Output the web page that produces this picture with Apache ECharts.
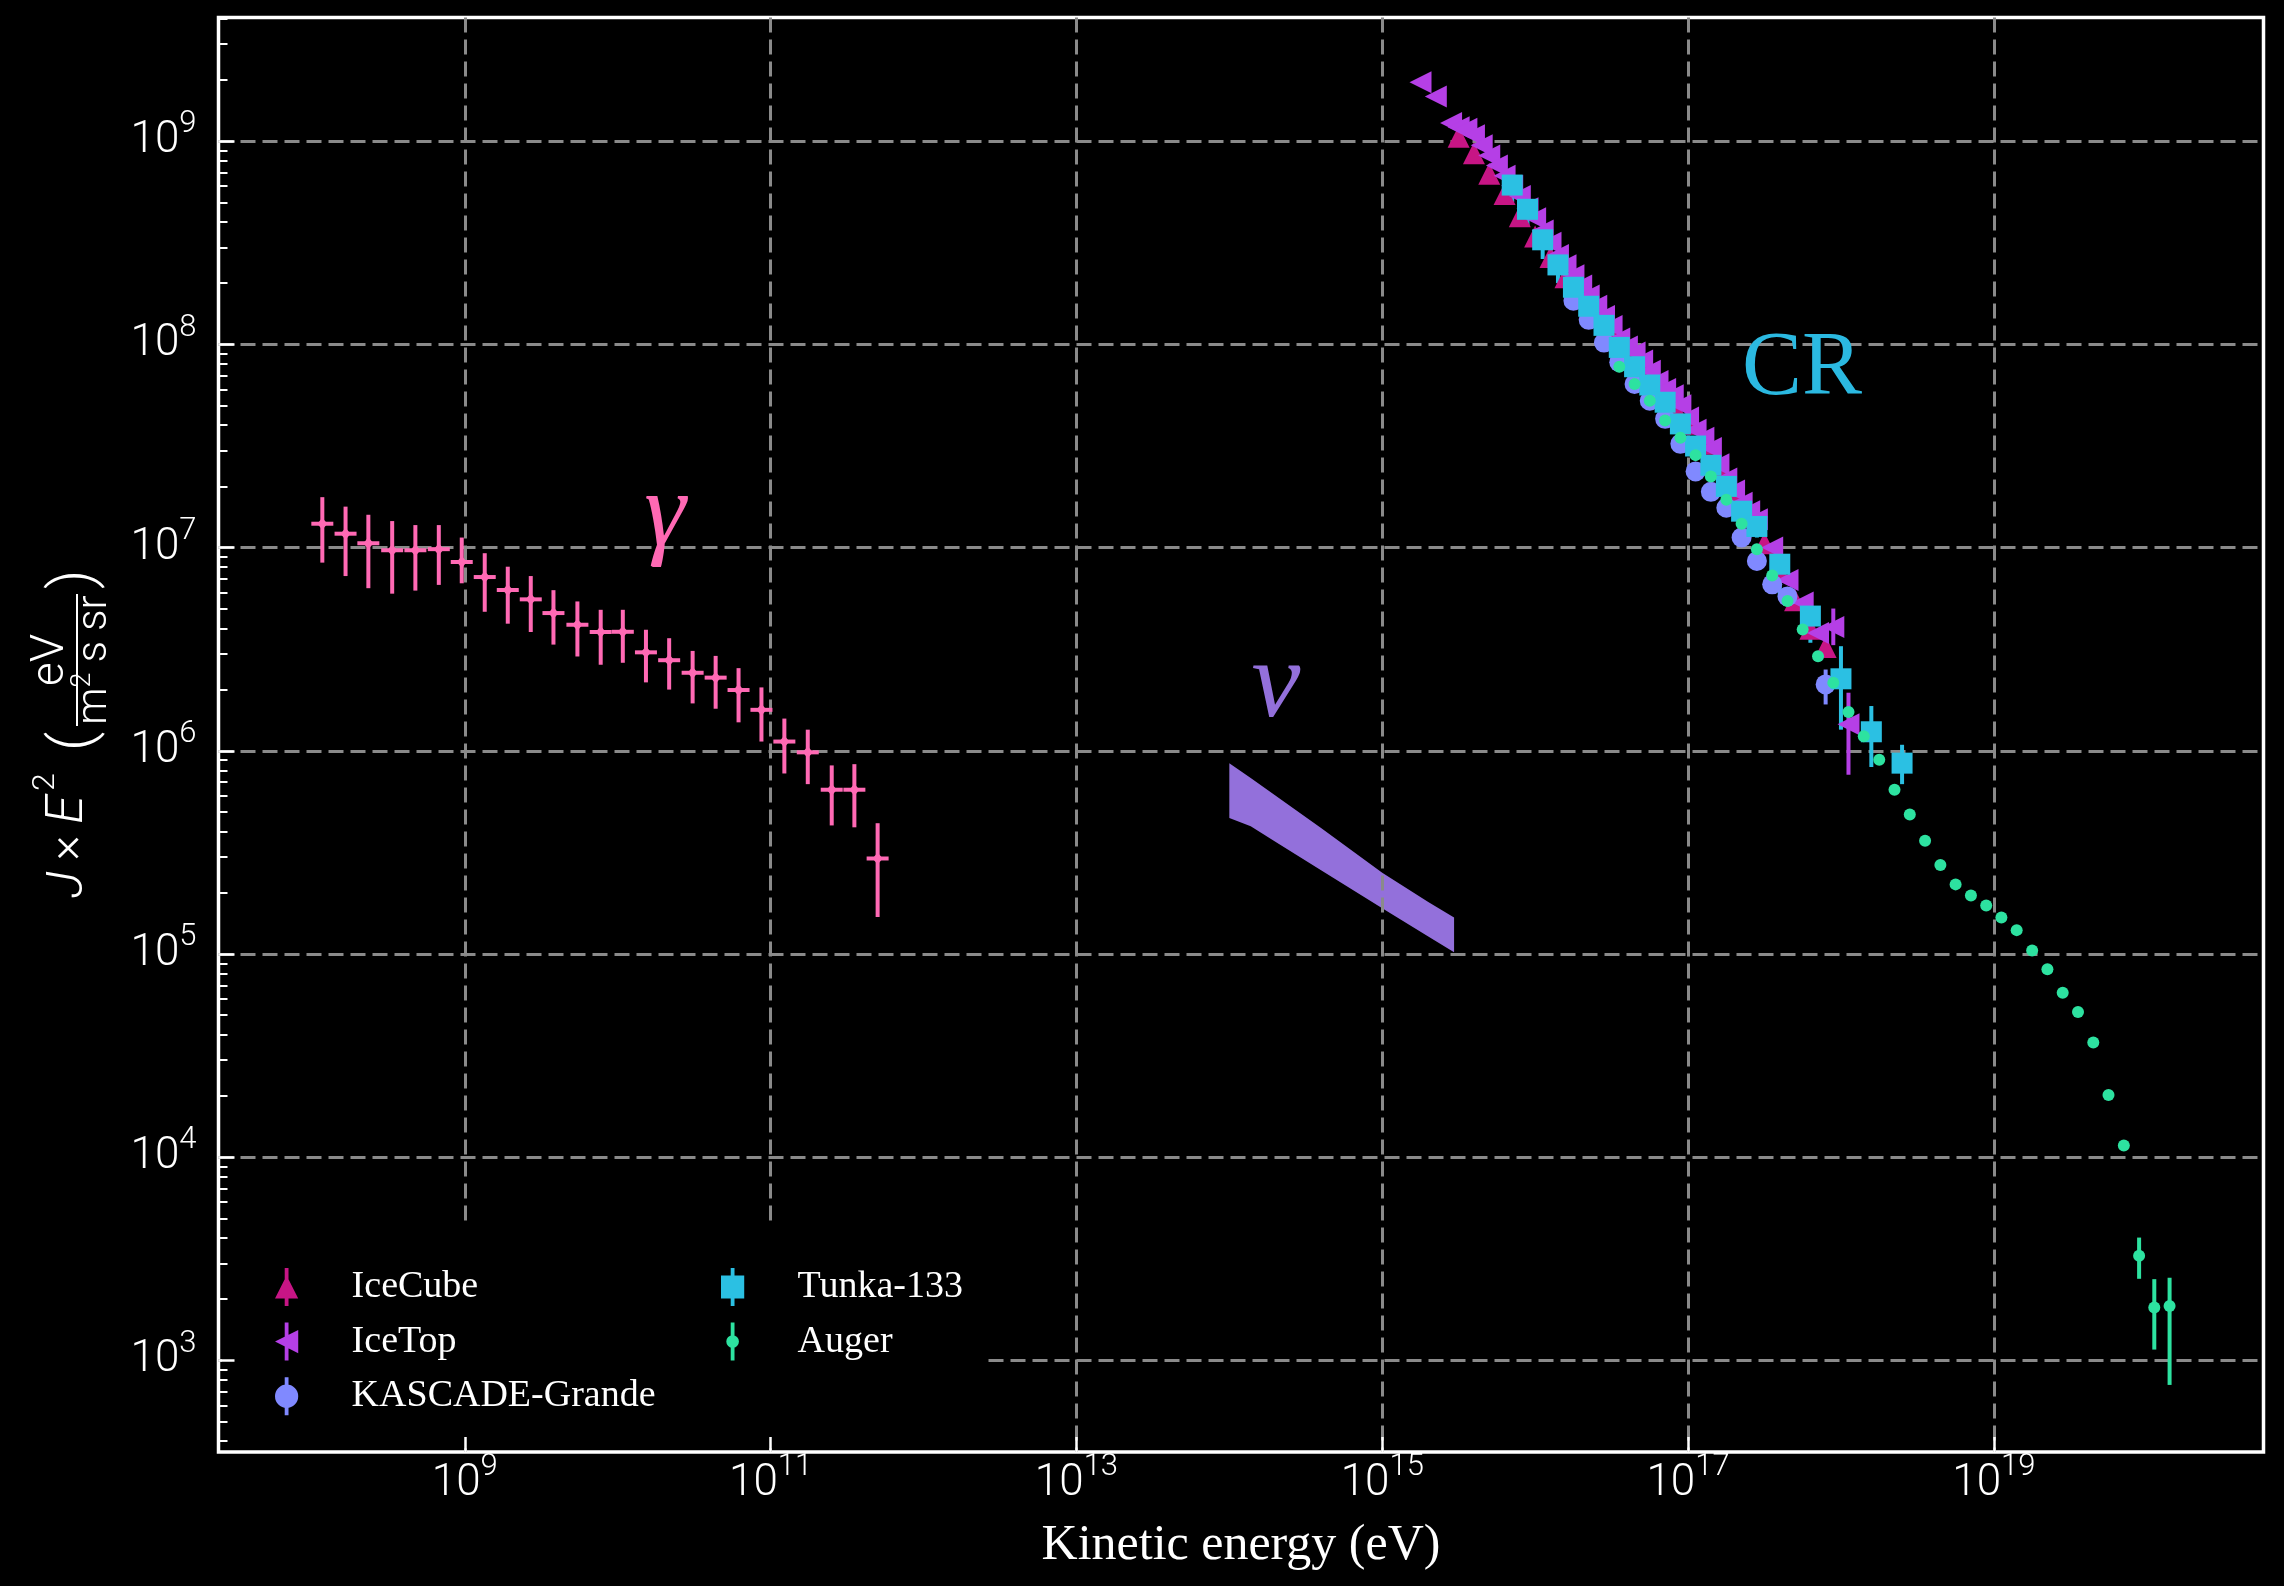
<!DOCTYPE html>
<html><head><meta charset="utf-8">
<script src="https://cdn.jsdelivr.net/npm/echarts@6/dist/echarts.min.js"></script>
<style>html,body{margin:0;padding:0;background:#000;}#c{width:2284px;height:1586px;}</style>
</head><body><div id="c"></div>
<script>
// ---------------- data ----------------
const xTickValues = [1e9, 1e11, 1e13, 1e15, 1e17, 1e19];
const yTickValues = [1e3, 1e4, 1e5, 1e6, 1e7, 1e8, 1e9];
const yMinorTickValues = [4e2,5e2,6e2,7e2,8e2,9e2,
  2e3,3e3,4e3,5e3,6e3,7e3,8e3,9e3, 2e4,3e4,4e4,5e4,6e4,7e4,8e4,9e4,
  2e5,3e5,4e5,5e5,6e5,7e5,8e5,9e5, 2e6,3e6,4e6,5e6,6e6,7e6,8e6,9e6,
  2e7,3e7,4e7,5e7,6e7,7e7,8e7,9e7, 2e8,3e8,4e8,5e8,6e8,7e8,8e8,9e8, 2e9,3e9,4e9];

// gamma rays
const gammaEnergy = [1.17e8,1.66e8,2.34e8,3.35e8,4.75e8,6.76e8,9.55e8,1.35e9,1.91e9,2.70e9,3.80e9,5.45e9,7.74e9,1.08e10,1.53e10,2.17e10,3.09e10,4.37e10,6.17e10,8.71e10,1.23e11,1.75e11,2.51e11,3.53e11,5.01e11];
const gammaFlux = [1.31e7,1.17e7,1.05e7,9.70e6,9.70e6,9.82e6,8.49e6,7.16e6,6.18e6,5.56e6,4.76e6,4.17e6,3.84e6,3.85e6,3.05e6,2.79e6,2.42e6,2.29e6,1.99e6,1.59e6,1.11e6,9.82e5,6.43e5,6.43e5,2.95e5];
const gammaFluxLow = [8.43e6,7.24e6,6.31e6,5.93e6,6.14e6,6.55e6,6.67e6,4.83e6,4.22e6,3.84e6,3.33e6,2.91e6,2.65e6,2.71e6,2.17e6,2.00e6,1.71e6,1.61e6,1.38e6,1.11e6,7.73e5,6.85e5,4.29e5,4.20e5,1.52e5];
const gammaFluxHigh = [1.77e7,1.59e7,1.45e7,1.35e7,1.29e7,1.29e7,1.12e7,9.38e6,8.05e6,7.24e6,6.17e6,5.43e6,4.94e6,4.94e6,3.94e6,3.58e6,3.10e6,2.93e6,2.55e6,2.05e6,1.44e6,1.27e6,8.47e5,8.59e5,4.40e5];

// neutrino band
const nuEnergy = [1.0e14,1.38e14,2.0e14,3.98e14,1.0e15,2.0e15,2.95e15];
const nuUpper  = [8.69e5,7.35e5,6.03e5,4.17e5,2.51e5,1.80e5,1.51e5];
const nuLower  = [4.67e5,4.25e5,3.57e5,2.58e5,1.68e5,1.22e5,1.02e5];

// IceCube
const iceCubeEnergy = [3.16e15,3.98e15,5.01e15,6.31e15,7.94e15,1.00e16,1.26e16,1.58e16,2.00e16,2.51e16,3.16e16,3.98e16,5.01e16,6.31e16,7.94e16,1.00e17,1.26e17,1.58e17,2.00e17,2.51e17,3.16e17,3.98e17,5.01e17,6.31e17,7.94e17];
const iceCubeFlux = [1.05e9,8.71e8,6.92e8,5.50e8,4.27e8,3.39e8,2.69e8,2.14e8,1.74e8,1.41e8,1.12e8,9.33e7,7.76e7,6.31e7,5.13e7,4.07e7,3.24e7,2.51e7,1.86e7,1.41e7,1.05e7,7.59e6,5.50e6,3.98e6,3.24e6];

// IceTop
const iceTopEnergy = [1.78e15,2.24e15,2.82e15,3.16e15,3.55e15,3.98e15,4.47e15,5.01e15,5.62e15,6.31e15,7.08e15,7.94e15,8.91e15,1.00e16,1.12e16,1.26e16,1.41e16,1.58e16,1.78e16,2.00e16,2.24e16,2.51e16,2.82e16,3.16e16,3.55e16,3.98e16,4.47e16,5.01e16,5.62e16,6.31e16,7.08e16,7.94e16,8.91e16,1.00e17,1.12e17,1.26e17,1.41e17,1.58e17,1.78e17,2.00e17,2.24e17,2.51e17,2.82e17,3.55e17,4.47e17,5.62e17,7.08e17,8.91e17,1.12e18];
const iceTopFlux = [1.95e9,1.66e9,1.23e9,1.17e9,1.15e9,1.07e9,9.55e8,8.51e8,7.59e8,6.76e8,6.03e8,5.37e8,4.68e8,4.17e8,3.63e8,3.16e8,2.75e8,2.45e8,2.19e8,1.95e8,1.74e8,1.55e8,1.38e8,1.23e8,1.07e8,9.77e7,9.12e7,8.32e7,7.41e7,6.61e7,6.03e7,5.62e7,5.01e7,4.37e7,3.80e7,3.47e7,3.09e7,2.57e7,2.19e7,1.91e7,1.66e7,1.51e7,1.38e7,1.00e7,6.92e6,5.37e6,3.80e6,4.07e6,1.35e6];
const iceTopErrEnergy = [8.91e17,1.12e18];
const iceTopErrLow = [3.31e6,7.62e5];
const iceTopErrHigh = [5.01e6,1.93e6];

// KASCADE-Grande
const kgEnergy = [1.78e16,2.24e16,2.82e16,3.55e16,4.47e16,5.62e16,7.08e16,8.91e16,1.12e17,1.41e17,1.78e17,2.24e17,2.82e17,3.55e17,4.47e17,7.94e17];
const kgFlux = [1.64e8,1.32e8,1.02e8,8.17e7,6.38e7,5.28e7,4.30e7,3.24e7,2.37e7,1.88e7,1.57e7,1.12e7,8.59e6,6.59e6,5.75e6,2.12e6];
const kgErrEnergy = [7.94e17];
const kgErrLow = [1.69e6];
const kgErrHigh = [2.51e6];

// Tunka-133
const tunkaEnergy = [7.08e15,8.91e15,1.12e16,1.41e16,1.78e16,2.24e16,2.82e16,3.55e16,4.47e16,5.62e16,7.08e16,8.91e16,1.12e17,1.41e17,1.78e17,2.24e17,2.82e17,3.98e17,6.31e17,1.00e18,1.58e18,2.51e18];
const tunkaFlux = [6.08e8,4.62e8,3.27e8,2.46e8,1.91e8,1.54e8,1.24e8,9.66e7,7.76e7,6.31e7,5.19e7,4.06e7,3.16e7,2.54e7,2.00e7,1.51e7,1.27e7,8.28e6,4.60e6,2.26e6,1.24e6,8.69e5];
const tunkaErrEnergy = [7.08e15,8.91e15,1.12e16,1.41e16,1.78e16,2.82e17,3.98e17,6.31e17,1.00e18,1.58e18,2.51e18];
const tunkaErrLow = [5.01e8,3.80e8,2.63e8,2.00e8,1.58e8,1.12e7,5.75e6,3.40e6,1.27e6,8.32e5,6.85e5];
const tunkaErrHigh = [6.31e8,4.79e8,3.39e8,2.51e8,1.95e8,1.45e7,1.09e7,5.15e6,3.27e6,1.66e6,1.07e6];

// Auger
const augerEnergy = [3.55e16,4.47e16,5.62e16,7.08e16,8.91e16,1.12e17,1.41e17,1.78e17,2.24e17,2.82e17,3.55e17,4.47e17,5.62e17,7.08e17,8.91e17,1.12e18,1.41e18,1.78e18,2.24e18,2.82e18,3.55e18,4.47e18,5.62e18,7.08e18,8.91e18,1.12e19,1.41e19,1.78e19,2.24e19,2.82e19,3.55e19,4.47e19,5.62e19,7.08e19,8.91e19,1.12e20,1.41e20];
const augerFlux = [7.76e7,6.38e7,5.28e7,4.22e7,3.47e7,2.85e7,2.24e7,1.72e7,1.31e7,9.82e6,7.29e6,5.46e6,3.95e6,2.92e6,2.16e6,1.55e6,1.18e6,9.04e5,6.43e5,4.85e5,3.61e5,2.74e5,2.20e5,1.94e5,1.73e5,1.51e5,1.31e5,1.04e5,8.41e4,6.44e4,5.18e4,3.67e4,2.02e4,1.14e4,3.27e3,1.82e3,1.85e3];
const augerErrEnergy = [7.08e19,8.91e19,1.12e20,1.41e20];
const augerErrLow = [1.08e4,2.52e3,1.13e3,7.57e2];
const augerErrHigh = [1.20e4,4.02e3,2.51e3,2.55e3];

// ---------------- styling ----------------
const COL = {gamma:'#ff69b4', nu:'#9370db', iceCube:'#c71585', iceTop:'#b53fe6', kg:'#8089ff', tunka:'#2bc0e3', auger:'#2de2a0', cr:'#2bb9e1'};
const X_MIN = 2.45e7, X_MAX = 5.8e20, Y_MIN = 354, Y_MAX = 4.06e9;

const ICON_UP = 'path://M92,0H128V360H92Z M0,290L110,70L220,290Z';
const ICON_LEFT = 'path://M92,0H128V360H92Z M0,180L220,70L220,290Z';
const ICON_CIRC = 'path://M92,0H128V360H92Z M0,180A110,110,0,1,1,220,180A110,110,0,1,1,0,180Z';
const ICON_SQ = 'path://M92,0H128V360H92Z M0,70H220V290H0Z';
const ICON_DOT = 'path://M92,0H128V360H92Z M50,180A60,60,0,1,1,170,180A60,60,0,1,1,50,180Z';

const tickRich = {
  b: {fontSize: 44, lineHeight: 64, fontFamily: 'Roboto', fontWeight: 300, color: '#fff', verticalAlign: 'middle'},
  s: {fontSize: 31, lineHeight: 31, fontFamily: 'Roboto', fontWeight: 300, color: '#fff', verticalAlign: 'top'}
};
const powLabel = v => '{b|10}{s|' + Math.round(Math.log10(v)) + '}';

const pairs = (xs, ys) => xs.map((x, i) => [x, ys[i]]);

function errorBars(name, color, xs, lo, hi) {
  return {
    type: 'custom', name, silent: true,
    itemStyle: {color},
    data: xs.map((x, i) => [x, lo[i], hi[i]]),
    encode: {x: 0, y: [1, 2]},
    renderItem(params, api) {
      const a = api.coord([api.value(0), api.value(1)]);
      const b = api.coord([api.value(0), api.value(2)]);
      return {type: 'line', shape: {x1: a[0], y1: a[1], x2: b[0], y2: b[1]}, style: {stroke: color, lineWidth: 4}};
    }
  };
}
function markers(name, color, xs, ys, symbol, size, rotate) {
  return {type: 'scatter', name, data: pairs(xs, ys), symbol, symbolSize: size, symbolRotate: rotate || 0,
    itemStyle: {color, opacity: 1}, silent: true};
}

const baseX = {type: 'log', min: X_MIN, max: X_MAX, gridIndex: 0};
const baseY = {type: 'log', min: Y_MIN, max: Y_MAX, gridIndex: 0};
const dashed = {show: true, lineStyle: {color: '#8a8a8a', width: 3, type: [15, 7]}};
const lbl = {fill: '#fff', fontFamily: 'Roboto', fontWeight: 300};
const legendText = {color: '#fff', fontSize: 38, fontFamily: 'Liberation Serif', lineHeight: 38};

const option = {
  backgroundColor: '#000',
  animation: false,
  grid: {left: 218.5, top: 17.5, right: 20.5, bottom: 134, show: true, borderColor: '#fff', borderWidth: 3.5, backgroundColor: 'transparent'},
  xAxis: [
    Object.assign({}, baseX, {position: 'bottom', axisLine: {show: false, onZero: false},
      axisTick: {show: false, customValues: xTickValues},
      axisLabel: {customValues: xTickValues, formatter: powLabel, rich: tickRich, margin: 0},
      splitLine: dashed, minorTick: {show: false},
      name: 'Kinetic energy (eV)', nameLocation: 'middle', nameGap: 69,
      nameTextStyle: {color: '#fff', fontSize: 50, fontFamily: 'Liberation Serif'}}),
    Object.assign({}, baseX, {position: 'bottom', z: 6, axisLine: {show: false, onZero: false},
      axisTick: {show: true, inside: true, length: 15, customValues: xTickValues, lineStyle: {color: '#fff', width: 2.5}},
      axisLabel: {show: false}, splitLine: {show: false}})
  ],
  yAxis: [
    Object.assign({}, baseY, {position: 'left', axisLine: {show: false},
      axisTick: {show: false, customValues: yTickValues},
      axisLabel: {customValues: yTickValues, formatter: powLabel, rich: tickRich, margin: 22},
      splitLine: dashed, minorTick: {show: false}}),
    Object.assign({}, baseY, {position: 'left', z: 6, axisLine: {show: false},
      axisTick: {show: true, inside: true, length: 16, customValues: yTickValues, lineStyle: {color: '#fff', width: 2.5}},
      axisLabel: {show: false}, splitLine: {show: false}}),
    Object.assign({}, baseY, {position: 'left', z: 6, axisLine: {show: false},
      axisTick: {show: true, inside: true, length: 9, customValues: yMinorTickValues, lineStyle: {color: '#fff', width: 2}},
      axisLabel: {show: false}, splitLine: {show: false}})
  ],
  legend: [
    {z: 4, orient: 'vertical', left: 222, top: 1223, padding: [45, 328, 33, 53], backgroundColor: '#000', borderWidth: 0,
      itemWidth: 120, itemHeight: 38, itemGap: 16.6, symbolKeepAspect: true, selectedMode: false,
      textStyle: legendText,
      data: [{name: 'IceCube', icon: ICON_UP}, {name: 'IceTop', icon: ICON_LEFT}, {name: 'KASCADE-Grande', icon: ICON_CIRC}]},
    {z: 5, orient: 'vertical', left: 721, top: 1268, padding: 0,
      itemWidth: 120, itemHeight: 38, itemGap: 16.6, symbolKeepAspect: true, selectedMode: false,
      textStyle: legendText,
      data: [{name: 'Tunka-133', icon: ICON_SQ}, {name: 'Auger', icon: ICON_DOT}]}
  ],
  graphic: [
    {type: 'group', x: 82, y: 898, rotation: Math.PI / 2, z: 10, children: [
      {type: 'text', x: 0, y: -13, style: Object.assign({text: 'J', fontSize: 50, fontStyle: 'italic', align: 'left', verticalAlign: 'middle'}, lbl)},
      {type: 'text', x: 50, y: -13, style: Object.assign({text: '×', fontSize: 48, align: 'center', verticalAlign: 'middle'}, lbl)},
      {type: 'text', x: 74, y: -13, style: Object.assign({text: 'E', fontSize: 52, fontStyle: 'italic', align: 'left', verticalAlign: 'middle'}, lbl)},
      {type: 'text', x: 107, y: -36, style: Object.assign({text: '2', fontSize: 32, align: 'left', verticalAlign: 'middle'}, lbl)},
      {type: 'text', x: 147, y: -6, style: Object.assign({text: '(', fontSize: 60, align: 'left', verticalAlign: 'middle'}, lbl)},
      {type: 'text', x: 238, y: -31, style: Object.assign({text: 'eV', fontSize: 46, align: 'center', verticalAlign: 'middle'}, lbl)},
      {type: 'line', shape: {x1: 172, y1: -5, x2: 304, y2: -5}, style: {stroke: '#fff', lineWidth: 2}},
      {type: 'text', x: 238, y: 13, style: Object.assign({text: '{a|m}{s|2}{a| s sr}', fontSize: 42, align: 'center', verticalAlign: 'middle',
        rich: {a: Object.assign({fontSize: 42, lineHeight: 50}, lbl),
               s: Object.assign({fontSize: 27, lineHeight: 27, verticalAlign: 'top'}, lbl)}}, lbl)},
      {type: 'text', x: 309, y: -6, style: Object.assign({text: ')', fontSize: 60, align: 'left', verticalAlign: 'middle'}, lbl)}
    ]},
    {type: 'text', x: 665, y: 516, z: 10, style: {text: 'γ', fill: COL.gamma, fontSize: 105, fontStyle: 'italic', fontFamily: 'Liberation Serif', align: 'center', verticalAlign: 'middle'}},
    {type: 'text', x: 1276, y: 687, z: 10, style: {text: 'ν', fill: COL.nu, fontSize: 110, fontStyle: 'italic', fontFamily: 'Liberation Serif', align: 'center', verticalAlign: 'middle'}},
    {type: 'text', x: 1802, y: 370, z: 10, style: {text: 'CR', fill: COL.cr, fontSize: 90, fontFamily: 'Liberation Serif', align: 'center', verticalAlign: 'middle'}}
  ],
  series: [
    {
      type: 'custom', name: 'neutrino band', z: -1, silent: true,
      data: nuEnergy.map((e, i) => [e, nuLower[i], nuUpper[i]]),
      encode: {x: 0, y: [1, 2]},
      renderItem(params, api) {
        if (params.dataIndex !== 0) return {type: 'group', children: []};
        const pts = [];
        for (let i = 0; i < nuEnergy.length; i++) pts.push(api.coord([nuEnergy[i], nuUpper[i]]));
        for (let i = nuEnergy.length - 1; i >= 0; i--) pts.push(api.coord([nuEnergy[i], nuLower[i]]));
        return {type: 'polygon', shape: {points: pts}, style: {fill: COL.nu}};
      }
    },
    {
      type: 'custom', name: 'gamma', silent: true, itemStyle: {color: COL.gamma},
      data: gammaEnergy.map((e, i) => [e, gammaFlux[i], gammaFluxLow[i], gammaFluxHigh[i]]),
      encode: {x: 0, y: [1, 2, 3]},
      renderItem(params, api) {
        const c = api.coord([api.value(0), api.value(1)]);
        const lo = api.coord([api.value(0), api.value(2)]);
        const hi = api.coord([api.value(0), api.value(3)]);
        return {type: 'group', children: [
          {type: 'line', shape: {x1: c[0], y1: hi[1], x2: c[0], y2: lo[1]}, style: {stroke: COL.gamma, lineWidth: 4}},
          {type: 'line', shape: {x1: c[0] - 11, y1: c[1], x2: c[0] + 11, y2: c[1]}, style: {stroke: COL.gamma, lineWidth: 4}},
          {type: 'polygon', shape: {points: [[c[0], c[1] - 6], [c[0] + 5, c[1]], [c[0], c[1] + 6], [c[0] - 5, c[1]]]}, style: {fill: COL.gamma}}
        ]};
      }
    },
    markers('IceCube', COL.iceCube, iceCubeEnergy, iceCubeFlux, 'triangle', 22, 0),
    errorBars('IceTop', COL.iceTop, iceTopErrEnergy, iceTopErrLow, iceTopErrHigh),
    markers('IceTop', COL.iceTop, iceTopEnergy, iceTopFlux, 'triangle', 22, 90),
    errorBars('KASCADE-Grande', COL.kg, kgErrEnergy, kgErrLow, kgErrHigh),
    markers('KASCADE-Grande', COL.kg, kgEnergy, kgFlux, 'circle', 20, 0),
    errorBars('Tunka-133', COL.tunka, tunkaErrEnergy, tunkaErrLow, tunkaErrHigh),
    markers('Tunka-133', COL.tunka, tunkaEnergy, tunkaFlux, 'rect', 21, 0),
    errorBars('Auger', COL.auger, augerErrEnergy, augerErrLow, augerErrHigh),
    markers('Auger', COL.auger, augerEnergy, augerFlux, 'circle', 12, 0)
  ]
};

const chart = echarts.init(document.getElementById('c'), null, {renderer: 'canvas', width: 2284, height: 1586, devicePixelRatio: 1});
chart.setOption(option);
</script></body></html>
